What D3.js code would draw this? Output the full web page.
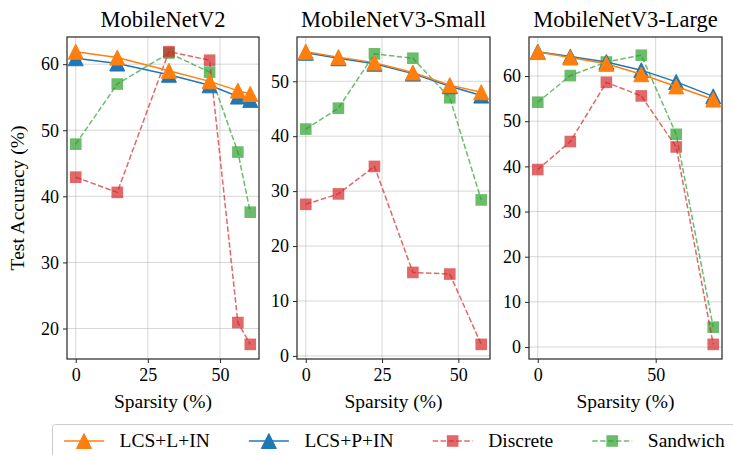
<!DOCTYPE html>
<html>
<head>
<meta charset="utf-8">
<script src="https://cdn.jsdelivr.net/npm/d3@7"></script>
<style>
  body { margin: 0; background: #fff; }
  svg text { font-family: "Liberation Serif", "Times New Roman", serif !important; fill: #000; }
</style>
</head>
<body>
<div class="container"></div>
<script>
const WIDTH = 733;
const HEIGHT = 455;
const SERIF = "'Liberation Serif', 'Times New Roman', serif";

// panel titles
var titles = ["MobileNetV2", "MobileNetV3-Small", "MobileNetV3-Large"];

// sparsity (%) per panel
var sparsityV2  = [0, 14.4, 32.3, 46.4, 56.2, 60.5];
var sparsityV3S = [0, 10.7, 22.5, 35.1, 47.2, 57.5];
var sparsityV3L = [0, 13.8, 29.1, 43.9, 58.7, 74.4];

// test accuracy (%) per method
var lcsLV2  = [61.9, 61.0, 59.0, 57.4, 56.0, 55.5];
var lcsPV2  = [60.9, 60.1, 58.4, 56.8, 55.1, 54.6];
var discV2  = [42.9, 40.6, 61.9, 60.6, 20.9, 17.6];
var sandV2  = [47.9, 57.0, 61.7, 58.8, 46.7, 37.6];

var lcsLV3S = [55.4, 54.4, 53.4, 51.6, 49.3, 48.0];
var lcsPV3S = [55.2, 54.2, 53.2, 51.4, 49.1, 47.4];
var discV3S = [27.6, 29.5, 34.5, 15.2, 14.9, 2.1];
var sandV3S = [41.3, 45.1, 55.0, 54.2, 47.0, 28.4];

var lcsLV3L = [65.3, 64.1, 62.7, 60.4, 57.7, 54.8];
var lcsPV3L = [65.4, 64.3, 63.1, 61.3, 58.7, 55.5];
var discV3L = [39.3, 45.5, 58.6, 55.6, 44.3, 0.6];
var sandV3L = [54.2, 60.1, 63.1, 64.6, 47.1, 4.4];

// ticks
var xTicksV2  = [0, 25, 50];
var xTicksV3S = [0, 25, 50];
var xTicksV3L = [0, 50];
var yTicksV2  = [20, 30, 40, 50, 60];
var yTicksV3S = [0, 10, 20, 30, 40, 50];
var yTicksV3L = [0, 10, 20, 30, 40, 50, 60];

var seriesNames = ["LCS+L+IN", "LCS+P+IN", "Discrete", "Sandwich"];

var styles = {
  "LCS+L+IN": { color: "#ff7f0e", dash: null, marker: "tri", alpha: 1 },
  "LCS+P+IN": { color: "#1f77b4", dash: null, marker: "tri", alpha: 1 },
  "Discrete": { color: "#d62728", dash: "5.5,2.4", marker: "sq", alpha: 0.7 },
  "Sandwich": { color: "#2ca02c", dash: "5.5,2.4", marker: "sq", alpha: 0.7 }
};

var panels = [
  { title: titles[0], x: sparsityV2, xTicks: xTicksV2, yTicks: yTicksV2,
    series: { "LCS+L+IN": lcsLV2, "LCS+P+IN": lcsPV2, "Discrete": discV2, "Sandwich": sandV2 },
    left: 67, right: 259 },
  { title: titles[1], x: sparsityV3S, xTicks: xTicksV3S, yTicks: yTicksV3S,
    series: { "LCS+L+IN": lcsLV3S, "LCS+P+IN": lcsPV3S, "Discrete": discV3S, "Sandwich": sandV3S },
    left: 297, right: 490 },
  { title: titles[2], x: sparsityV3L, xTicks: xTicksV3L, yTicks: yTicksV3L,
    series: { "LCS+L+IN": lcsLV3L, "LCS+P+IN": lcsPV3L, "Discrete": discV3L, "Sandwich": sandV3L },
    left: 529, right: 722 }
];

var TOP = 37;
var BOTTOM = 359;
var drawOrder = ["Sandwich", "Discrete", "LCS+P+IN", "LCS+L+IN"];

var svg = d3.select(".container").append("svg")
  .attr("width", WIDTH)
  .attr("height", HEIGHT)
  .style("font-family", SERIF);

function padded(ext) {
  var m = (ext[1] - ext[0]) * 0.05;
  return [ext[0] - m, ext[1] + m];
}

function drawMarker(g, kind, cx, cy, color, alpha) {
  if (kind === "tri") {
    var s = 7.5;
    g.append("path")
      .attr("d", "M" + cx + "," + (cy - s) + "L" + (cx + s) + "," + (cy + s) + "L" + (cx - s) + "," + (cy + s) + "Z")
      .attr("fill", color)
      .attr("stroke", color)
      .attr("stroke-width", 1);
  } else {
    var h = 5.8;
    g.append("rect")
      .attr("x", cx - h).attr("y", cy - h)
      .attr("width", 2 * h).attr("height", 2 * h)
      .attr("fill", color)
      .attr("fill-opacity", alpha);
  }
}

panels.forEach(function(p) {
  var allY = [];
  seriesNames.forEach(function(n) { allY = allY.concat(p.series[n]); });

  var x = d3.scaleLinear().domain(padded(d3.extent(p.x))).range([p.left, p.right]);
  var y = d3.scaleLinear().domain(padded(d3.extent(allY))).range([BOTTOM, TOP]);

  var g = svg.append("g");

  // grid
  g.append("g").selectAll("line").data(p.xTicks).join("line")
    .attr("x1", d => x(d)).attr("x2", d => x(d))
    .attr("y1", TOP).attr("y2", BOTTOM)
    .attr("stroke", "#b0b0b0").attr("stroke-opacity", 0.5).attr("stroke-width", 1);
  g.append("g").selectAll("line").data(p.yTicks).join("line")
    .attr("x1", p.left).attr("x2", p.right)
    .attr("y1", d => y(d)).attr("y2", d => y(d))
    .attr("stroke", "#b0b0b0").attr("stroke-opacity", 0.5).attr("stroke-width", 1);

  // series
  drawOrder.forEach(function(n) {
    var st = styles[n];
    var pts = p.x.map(function(xv, i) { return [xv, p.series[n][i]]; });
    var line = d3.line().x(d => x(d[0])).y(d => y(d[1]));
    g.append("path")
      .attr("d", line(pts))
      .attr("fill", "none")
      .attr("stroke", st.color)
      .attr("stroke-opacity", st.alpha)
      .attr("stroke-width", 1.5)
      .attr("stroke-dasharray", st.dash);
    pts.forEach(function(d) {
      drawMarker(g, st.marker, x(d[0]), y(d[1]), st.color, st.alpha);
    });
  });

  // axes
  var xAxis = d3.axisBottom(x).tickValues(p.xTicks).tickSize(4).tickPadding(5).tickFormat(d3.format("d"));
  var yAxis = d3.axisLeft(y).tickValues(p.yTicks).tickSize(4).tickPadding(4).tickFormat(d3.format("d"));

  var gx = g.append("g").attr("transform", "translate(0," + BOTTOM + ")").call(xAxis);
  var gy = g.append("g").attr("transform", "translate(" + p.left + ",0)").call(yAxis);
  [gx, gy].forEach(function(a) {
    a.attr("font-family", null).attr("font-size", null);
    a.select(".domain").remove();
    a.selectAll(".tick line").attr("stroke", "#262626").attr("stroke-width", 1);
    a.selectAll(".tick text")
      .style("font-family", SERIF)
      .style("font-size", "18px")
      .attr("fill", "#000");
  });

  // frame
  g.append("rect")
    .attr("x", p.left).attr("y", TOP)
    .attr("width", p.right - p.left).attr("height", BOTTOM - TOP)
    .attr("fill", "none").attr("stroke", "#262626").attr("stroke-width", 1.2);

  // title
  g.append("text")
    .attr("x", (p.left + p.right) / 2).attr("y", 27)
    .attr("text-anchor", "middle")
    .style("font-size", "22.5px")
    .text(p.title);

  // x label
  g.append("text")
    .attr("x", (p.left + p.right) / 2).attr("y", 408)
    .attr("text-anchor", "middle")
    .style("font-size", "19.5px")
    .text("Sparsity (%)");
});

// y label
svg.append("text")
  .attr("transform", "translate(24," + ((TOP + BOTTOM) / 2) + ") rotate(-90)")
  .attr("text-anchor", "middle")
  .style("font-size", "19.5px")
  .text("Test Accuracy (%)");

// legend: handle 40px, text pad ~0.8em, column gap ~2em
var legend = svg.append("g");
legend.append("rect")
  .attr("x", 52.5).attr("y", 424.5)
  .attr("width", 700).attr("height", 40)
  .attr("rx", 3)
  .attr("fill", "#fff").attr("stroke", "#cccccc").attr("stroke-width", 1);

var lx = 64;
var ly = 441;
seriesNames.forEach(function(n) {
  var st = styles[n];
  legend.append("line")
    .attr("x1", lx).attr("x2", lx + 40)
    .attr("y1", ly).attr("y2", ly)
    .attr("stroke", st.color)
    .attr("stroke-opacity", st.alpha)
    .attr("stroke-width", 1.5)
    .attr("stroke-dasharray", st.dash);
  drawMarker(legend, st.marker, lx + 20, ly, st.color, st.alpha);
  var t = legend.append("text")
    .attr("x", lx + 40 + 15.6).attr("y", ly + 6)
    .style("font-size", "19.5px")
    .text(n);
  lx += 40 + 15.6 + t.node().getComputedTextLength() + 39;
});
</script>
</body>
</html>
